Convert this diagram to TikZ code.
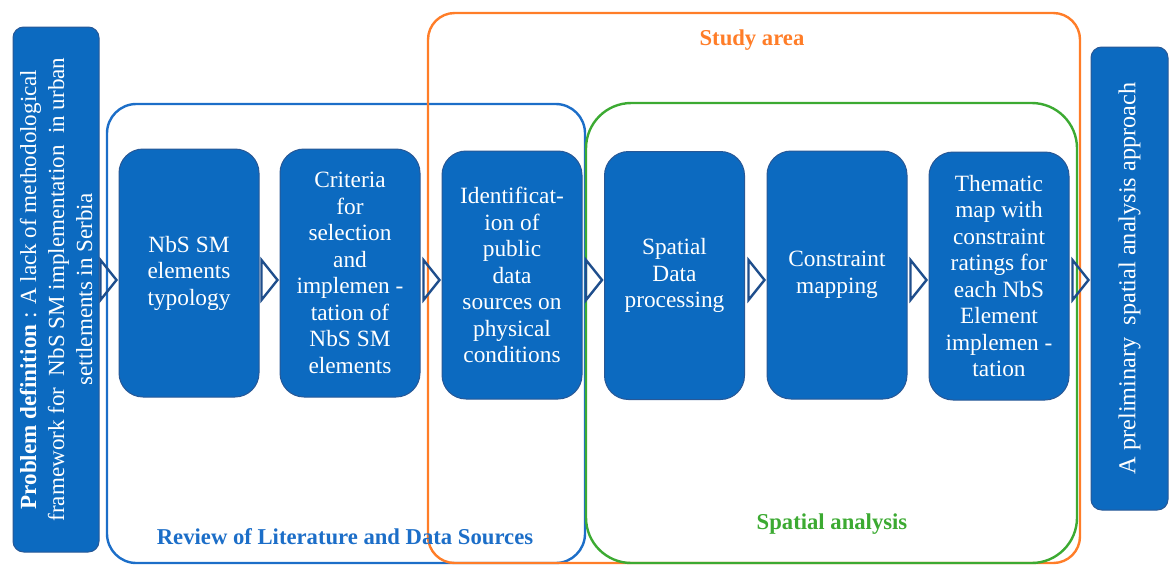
\documentclass[tikz,border=0pt]{standalone}
\usepackage{fontspec}
\setmainfont{Liberation Serif}
\usetikzlibrary{calc}

\definecolor{boxblue}{RGB}{12,106,192}
\definecolor{boxedge}{RGB}{40,88,150}
\definecolor{chevblue}{RGB}{31,78,140}
\definecolor{frameblue}{RGB}{28,110,200}
\definecolor{frameorange}{RGB}{255,125,40}
\definecolor{framegreen}{RGB}{60,170,50}

\tikzset{
  stepbox/.style={draw=boxedge, line width=0.75pt, fill=boxblue,
    rounded corners=18pt, minimum width=105pt, minimum height=186pt,
    inner sep=0pt, text=white, align=center,
    font=\fontsize{17.5}{19.9}\selectfont},
  sidebox/.style={draw=boxedge, line width=0.75pt, fill=boxblue,
    rounded corners=8pt, inner sep=0pt, text=white, align=center,
    rotate=90},
  frame/.style={line width=1.8pt, inner sep=0pt, fill=none},
  framelabel/.style={font=\fontsize{17}{19}\selectfont\bfseries},
  chev/.style={draw=chevblue, line width=1.8pt, line join=miter}
}

% open chevron just left of a node's west side
\newcommand\chevronat[1]{%
  \draw[chev] let \p1=(#1) in
    (\x1-13.5pt,-195pt) -- (\x1-1.5pt,-210pt) -- (\x1-13.5pt,-225pt) -- cycle;}

\begin{document}
\begin{tikzpicture}[x=0.75pt,y=-0.75pt]
\useasboundingbox (0,0) rectangle (1169,565);

% group frames
\node[frame, draw=frameblue, rounded corners=22pt,
  minimum width=358.5pt, minimum height=344.25pt] (review) at (346,333.5) {};
\node[frame, draw=frameorange, rounded corners=20pt,
  minimum width=489pt, minimum height=412.5pt] (study) at (754,288) {};
\node[frame, draw=framegreen, rounded corners=34pt,
  minimum width=368.25pt, minimum height=345pt] (spatial) at (831.5,333) {};

\node[framelabel, text=frameorange] (studylbl) at (752,40) {Study area};
\node[framelabel, text=frameblue] (reviewlbl) at (345,537)
  {Review of Literature and Data Sources};
\node[framelabel, text=framegreen] (spatiallbl) at (832,524) {Spatial analysis};

% problem definition and outcome
\node[sidebox, minimum width=393.75pt, minimum height=64.5pt,
  font=\fontsize{17.3}{21}\selectfont] (problem) at (56,289.5)
  {\textbf{Problem definition} : A lack of methodological\\
   framework for\ \ NbS SM implementation\ \ in urban\\
   settlements in Serbia};
\node[sidebox, minimum width=347.25pt, minimum height=57.75pt,
  font=\fontsize{18.2}{20}\selectfont] (outcome) at (1129.5,278.5)
  {A preliminary\ \ spatial analysis approach};

% process steps
\node[stepbox] (b1) at (189,273) {NbS SM\\elements\\typology};
\node[stepbox] (b2) at (350,273)
  {Criteria\\for\\selection\\and\\implemen -\\tation of\\NbS SM\\elements};
\node[stepbox] (b3) at (512,275)
  {Identificat-\\ion of\\public\\data\\sources on\\physical\\conditions};
\node[stepbox] (b4) at (674.5,275.5) {Spatial\\Data\\processing};
\node[stepbox] (b5) at (837,275) {Constraint\\mapping};
\node[stepbox] (b6) at (999,276)
  {Thematic\\map with\\constraint\\ratings for\\each NbS\\Element\\implemen -\\tation};

% chevrons between consecutive steps
\chevronat{b1.west}
\chevronat{b2.west}
\chevronat{b3.west}
\chevronat{b4.west}
\chevronat{b5.west}
\chevronat{b6.west}
\chevronat{outcome.north}
\end{tikzpicture}
\end{document}
